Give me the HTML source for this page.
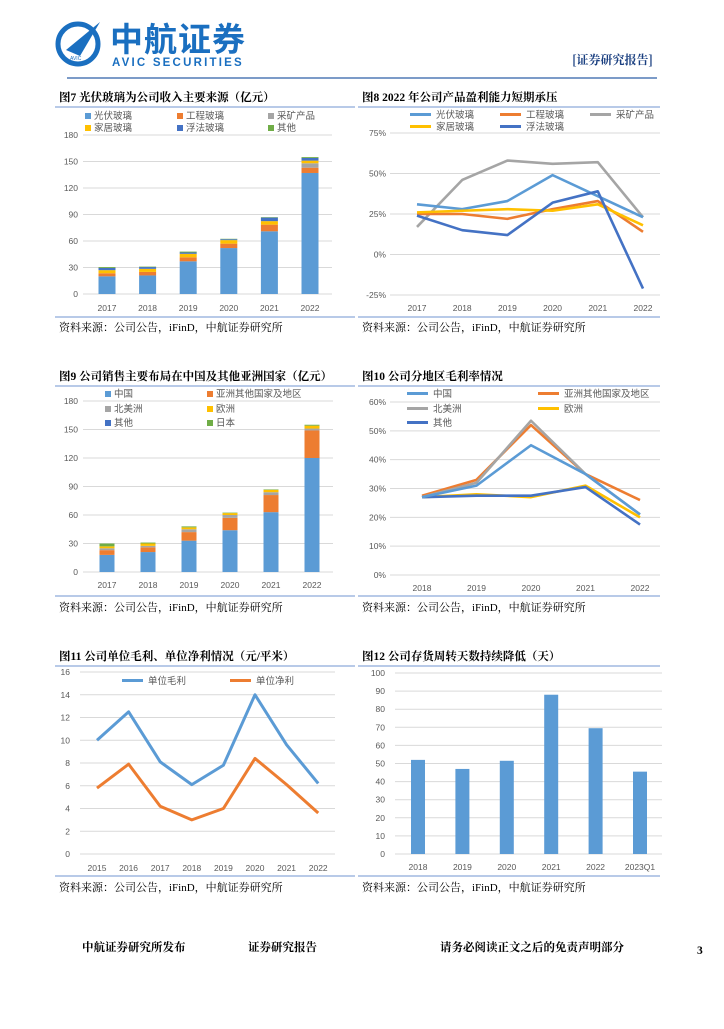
<!DOCTYPE html>
<html><head><meta charset="utf-8">
<style>
html,body{margin:0;padding:0;background:#fff;}
body{width:724px;height:1024px;overflow:hidden;position:relative;font-family:"Liberation Sans","Noto Sans CJK SC",sans-serif;}
svg text{font-family:"Liberation Sans","Noto Sans CJK SC",sans-serif;}
.ttl{font-family:"Liberation Serif","Noto Serif CJK SC",serif;font-weight:bold;font-size:11.5px;fill:#000;}
.src{font-family:"Liberation Serif","Noto Serif CJK SC",serif;font-size:11px;fill:#000;}
.tick{font-size:8.5px;fill:#595959;}
.leg{font-size:9.5px;fill:#595959;}
</style></head>
<body>
<svg id="page" width="724" height="1024" viewBox="0 0 724 1024" xmlns="http://www.w3.org/2000/svg">
<g>
  <g>
    <circle cx="78" cy="44" r="20" fill="none" stroke="#1a6fc0" stroke-width="5"/>
    <polygon points="66,50 100,22 80,56" fill="#1a6fc0"/>
    <text x="70" y="60" font-size="5" fill="#1a6fc0">AVIC</text>
  </g>
  <text x="110" y="51" font-size="33" font-weight="bold" fill="#1a6fc0" letter-spacing="1" style="font-family:'Noto Sans CJK SC',sans-serif">中航证券</text>
  <text x="112" y="66" font-size="11.5" font-weight="bold" fill="#1a6fc0" letter-spacing="2.2">AVIC SECURITIES</text>
  <text x="572" y="64" font-size="12" font-weight="bold" fill="#1a3f80" style="font-family:'Noto Serif CJK SC',serif">[证券研究报告]</text>
  <line x1="67" y1="78" x2="657" y2="78" stroke="#2e5fa8" stroke-width="1.2"/>
</g>
<g id="charts"></g>
<g>
  <text x="82" y="951" class="ttl" font-size="11">中航证券研究所发布</text>
  <text x="248" y="951" class="ttl" font-size="11">证券研究报告</text>
  <text x="440" y="951" class="ttl" font-size="11">请务必阅读正文之后的免责声明部分</text>
  <text x="697" y="954" class="ttl" font-size="10">3</text>
</g>
</svg>
<script>
// ---- Chart 7 data ----
const c7Cats = ['2017','2018','2019','2020','2021','2022'];
const c7Names = ['光伏玻璃','工程玻璃','采矿产品','家居玻璃','浮法玻璃','其他'];
const c7PV = [20,21,37,52,71,137];
const c7Eng = [3.5,4,4.5,5,7.5,6];
const c7Mine = [0,0,0,0,0,5];
const c7Home = [3.5,3.5,4,4,4,3];
const c7Float = [2.5,2,1.5,1,4,3];
const c7Other = [1,0.5,1,0.5,0.5,1];
const c7Ticks = [0,30,60,90,120,150,180];
// ---- Chart 8 data ----
const c8Cats = ['2017','2018','2019','2020','2021','2022'];
const c8Names = ['光伏玻璃','工程玻璃','采矿产品','家居玻璃','浮法玻璃'];
const c8PV = [31,28,33,49,36,23];
const c8Eng = [25,25,22,28,33,14];
const c8Mine = [17,46,58,56,57,23];
const c8Home = [26,27,28,27,31,18];
const c8Float = [24,15,12,32,39,-21];
const c8Ticks = [-25,0,25,50,75];
// ---- Chart 9 data ----
const c9Cats = ['2017','2018','2019','2020','2021','2022'];
const c9Names = ['中国','亚洲其他国家及地区','北美洲','欧洲','其他','日本'];
const c9CN = [18,21,33,44,63,120];
const c9Asia = [5,5,9,13,18,29];
const c9NA = [2,1.5,3,3,3,2];
const c9EU = [2,2.5,2,2,2.5,3];
const c9Oth = [0,0,0,0,0,0];
const c9JP = [3,1,1,0.5,0.5,1];
const c9Ticks = [0,30,60,90,120,150,180];
// ---- Chart 10 data ----
const c10Cats = ['2018','2019','2020','2021','2022'];
const c10Names = ['中国','亚洲其他国家及地区','北美洲','欧洲','其他'];
const c10CN = [27,31,45,35,21];
const c10Asia = [27.5,33,52,35,26];
const c10NA = [27,32,53.5,35,21];
const c10EU = [27,28,27,31,20];
const c10Oth = [27,27.5,27.5,30.5,17.5];
const c10Ticks = [0,10,20,30,40,50,60];
// ---- Chart 11 data ----
const c11Cats = ['2015','2016','2017','2018','2019','2020','2021','2022'];
const c11Names = ['单位毛利','单位净利'];
const c11Gross = [10,12.5,8.1,6.1,7.8,14,9.6,6.2];
const c11Net = [5.8,7.9,4.2,3,4,8.4,6.1,3.6];
const c11Ticks = [0,2,4,6,8,10,12,14,16];
// ---- Chart 12 data ----
const c12Cats = ['2018','2019','2020','2021','2022','2023Q1'];
const c12Days = [52,47,51.5,88,69.5,45.5];
const c12Ticks = [0,10,20,30,40,50,60,70,80,90,100];

const NS='http://www.w3.org/2000/svg';
const root=document.getElementById('charts');
function mk(tag,parent,attrs){const e=document.createElementNS(NS,tag);for(const k in attrs)e.setAttribute(k,attrs[k]);parent.appendChild(e);return e;}
function txt(parent,x,y,s,cls,anchor){const t=mk('text',parent,{x:x,y:y,class:cls,'text-anchor':anchor||'start'});t.textContent=s;return t;}

function frame(g,L,R,titleY,lineY,bottomY,title,srcY){
  const t=txt(g,L+4,titleY,title,'ttl');
  
  
  mk('line',g,{x1:L,y1:lineY,x2:R,y2:lineY,stroke:'#8eaadb','stroke-width':1.3});
  mk('line',g,{x1:L,y1:bottomY,x2:R,y2:bottomY,stroke:'#8eaadb','stroke-width':1.3});
  const s=txt(g,L+4,srcY,'资料来源：公司公告，iFinD，中航证券研究所','src');
  
  
}
function axes(g,cfg,ticks,fmt){
  const ys=v=>cfg.y0+(v-cfg.vmin)/(cfg.vmax-cfg.vmin)*(cfg.y1-cfg.y0);
  ticks.forEach(v=>{
    const y=ys(v);
    const l=mk('line',g,{x1:cfg.gx0,y1:y,x2:cfg.gx1,y2:y,stroke:'#d9d9d9','stroke-width':1});
    
    
    const t=txt(g,cfg.lx,y+3,fmt(v),'tick','end');
    
    
  });
  return ys;
}
function xlabels(g,cats,xs,y){
  cats.forEach((c,i)=>{const t=txt(g,xs(i),y,c,'tick','middle');
    
    });
}
function stacked(g,cats,series,colors,ys,xs,bw,names){
  cats.forEach((c,i)=>{let acc=0;
    series.forEach((s,k)=>{const v=s[i];if(v<=0)return;
      const yTop=ys(acc+v),yBot=ys(acc);acc+=v;
      const r=mk('rect',g,{x:xs(i)-bw/2,y:yTop,width:bw,height:yBot-yTop,fill:colors[k]});
      
      
    });});
}
function lines(g,series,colors,ys,xs,w,names){
  series.forEach((s,k)=>{
    const p=mk('polyline',g,{points:s.map((v,i)=>xs(i)+','+ys(v)).join(' '),fill:'none',stroke:colors[k],'stroke-width':w,'stroke-linejoin':'round'});
    
    
  });
}
function legSq(g,x,y,color,name){
  const e=mk('g',g,{});
  
  
  mk('rect',e,{x:x,y:y-6,width:6,height:6,fill:color});
  txt(e,x+9,y,name,'leg');
}
function legLn(g,x,y,color,name,w){
  const e=mk('g',g,{});
  
  
  mk('line',e,{x1:x,y1:y-3.5,x2:x+21,y2:y-3.5,stroke:color,'stroke-width':w||3});
  txt(e,x+26,y,name,'leg');
}
const BLUE='#5b9bd5',ORG='#ed7d31',GRAY='#a5a5a5',YEL='#ffc000',DBLUE='#4472c4',GRN='#70ad47';

// Chart 7
{const g=mk('g',root,{});
 frame(g,55,355,101,107,317,'图7  光伏玻璃为公司收入主要来源（亿元）',331);
 const ys=axes(g,{y0:294,y1:135,vmin:0,vmax:180,gx0:83,gx1:332,lx:78},c7Ticks,v=>String(v));
 const xs=i=>107+i*40.6;
 stacked(g,c7Cats,[c7PV,c7Eng,c7Mine,c7Home,c7Float,c7Other],[BLUE,ORG,GRAY,YEL,DBLUE,GRN],ys,xs,17,c7Names);
 xlabels(g,c7Cats,xs,311);
 const cols=[85,177,268],cl=[BLUE,ORG,GRAY,YEL,DBLUE,GRN];
 c7Names.forEach((n,k)=>legSq(g,cols[k%3],k<3?119:131,cl[k],n));
}
// Chart 8
{const g=mk('g',root,{});
 frame(g,358,660,101,107,317,'图8  2022 年公司产品盈利能力短期承压',331);
 const ys=axes(g,{y0:295,y1:133,vmin:-25,vmax:75,gx0:390,gx1:660,lx:386},c8Ticks,v=>v+'%');
 const xs=i=>417+i*45.2;
 lines(g,[c8Mine,c8PV,c8Eng,c8Home,c8Float],[GRAY,BLUE,ORG,YEL,DBLUE],ys,xs,2.6,[c8Names[2],c8Names[0],c8Names[1],c8Names[3],c8Names[4]]);
 xlabels(g,c8Cats,xs,311);
 const cols=[410,500,590],cl=[BLUE,ORG,GRAY,YEL,DBLUE];
 c8Names.forEach((n,k)=>legLn(g,cols[k%3],k<3?118:130,cl[k],n));
}
// Chart 9
{const g=mk('g',root,{});
 frame(g,55,355,380,386,596,'图9  公司销售主要布局在中国及其他亚洲国家（亿元）',611);
 const ys=axes(g,{y0:572,y1:401,vmin:0,vmax:180,gx0:83,gx1:333,lx:78},c9Ticks,v=>String(v));
 const xs=i=>107+i*41;
 stacked(g,c9Cats,[c9CN,c9Asia,c9NA,c9EU,c9Oth,c9JP],[BLUE,ORG,GRAY,YEL,DBLUE,GRN],ys,xs,15,c9Names);
 xlabels(g,c9Cats,xs,588);
 const cl=[BLUE,ORG,GRAY,YEL,DBLUE,GRN];
 c9Names.forEach((n,k)=>legSq(g,k%2?207:105,[397,412,426][Math.floor(k/2)],cl[k],n));
}
// Chart 10
{const g=mk('g',root,{});
 frame(g,358,660,380,386,596,'图10  公司分地区毛利率情况',611);
 const ys=axes(g,{y0:575,y1:402,vmin:0,vmax:60,gx0:390,gx1:660,lx:386},c10Ticks,v=>v+'%');
 const xs=i=>422+i*54.5;
 lines(g,[c10EU,c10Oth,c10Asia,c10NA,c10CN],[YEL,DBLUE,ORG,GRAY,BLUE],ys,xs,2.6,[c10Names[3],c10Names[4],c10Names[1],c10Names[2],c10Names[0]]);
 xlabels(g,c10Cats,xs,591);
 const cl=[BLUE,ORG,GRAY,YEL,DBLUE];
 c10Names.forEach((n,k)=>legLn(g,k%2?538:407,[397,412,426][Math.floor(k/2)],cl[k],n));
}
// Chart 11
{const g=mk('g',root,{});
 frame(g,55,355,660,666,876,'图11  公司单位毛利、单位净利情况（元/平米）',891);
 const ys=axes(g,{y0:854,y1:672,vmin:0,vmax:16,gx0:80,gx1:335,lx:70},c11Ticks,v=>String(v));
 const xs=i=>97+i*31.6;
 lines(g,[c11Gross,c11Net],[BLUE,ORG],ys,xs,3,c11Names);
 xlabels(g,c11Cats,xs,871);
 legLn(g,122,684,BLUE,c11Names[0],3);
 legLn(g,230,684,ORG,c11Names[1],3);
}
// Chart 12
{const g=mk('g',root,{});
 frame(g,358,660,660,666,876,'图12  公司存货周转天数持续降低（天）',891);
 const ys=axes(g,{y0:854,y1:673,vmin:0,vmax:100,gx0:395,gx1:662,lx:385},c12Ticks,v=>String(v));
 const xs=i=>418+i*44.4;
 stacked(g,c12Cats,[c12Days],[BLUE],ys,xs,14,['存货周转天数']);
 xlabels(g,c12Cats,xs,870);
}
</script>
</body></html>
